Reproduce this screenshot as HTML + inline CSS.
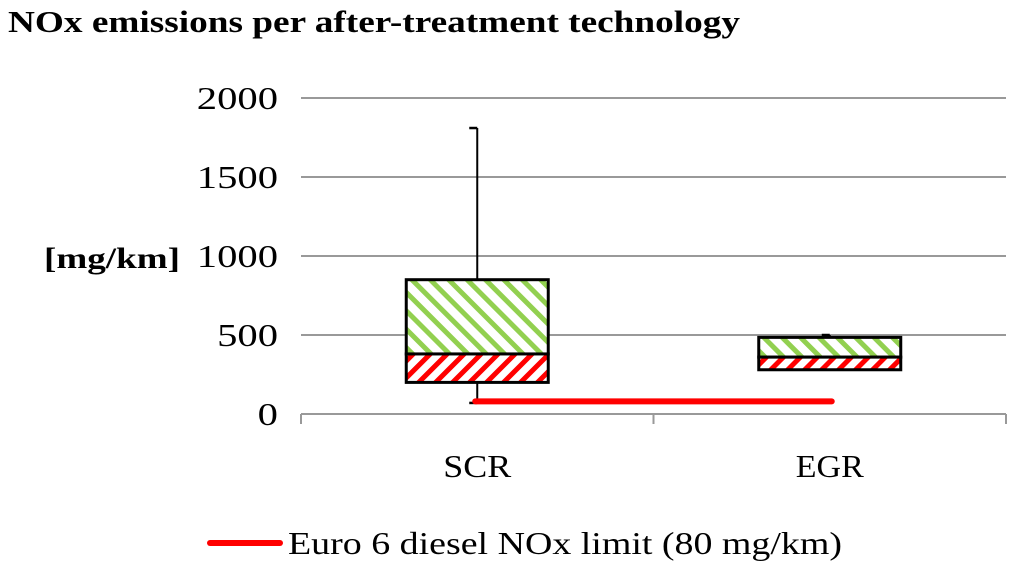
<!DOCTYPE html>
<html><head><meta charset="utf-8"><style>
body{margin:0;background:#fff;width:1024px;height:571px;overflow:hidden}
svg text{font-family:"Liberation Serif",serif}
</style></head><body>
<svg width="1024" height="571">
<defs>
<pattern id="pg" width="13" height="13" patternUnits="userSpaceOnUse" patternTransform="rotate(-45)">
<rect width="13" height="13" fill="#fff"/><rect width="5" height="13" fill="#92d050"/></pattern>
<pattern id="pr" width="12" height="12" patternUnits="userSpaceOnUse" patternTransform="rotate(45)">
<rect width="12" height="12" fill="#fff"/><rect width="5" height="12" fill="#f00"/></pattern>
</defs>
<text x="8" y="32" font-size="31" font-weight="bold" textLength="732" lengthAdjust="spacingAndGlyphs">NOx emissions per after-treatment technology</text>
<text x="44" y="268" font-size="30" font-weight="bold" textLength="136" lengthAdjust="spacingAndGlyphs">[mg/km]</text>
<g id="grid"></g><g id="marks"></g>
<line x1="210" y1="543" x2="280" y2="543" stroke="#f00" stroke-width="6" stroke-linecap="round"/>
<text x="288" y="554" font-size="32" textLength="554" lengthAdjust="spacingAndGlyphs">Euro 6 diesel NOx  limit (80 mg/km)</text>
</svg>
<script>
const categories=["SCR","EGR"];
const maxV=[1810,500];
const q3V=[850,485];
const medV=[380,360];
const q1V=[200,280];
const minV=[70,280];
const limitV=80;
const yTicks=[0,500,1000,1500,2000];
const NS="http://www.w3.org/2000/svg";
const x0=301,x1=1006,y0=414,yTop=98;
const y=v=>y0-(v/2000)*(y0-yTop);
const bw=(x1-x0)/categories.length;
const cx=i=>x0+bw*(i+0.5);
function mk(t,a,p){const e=document.createElementNS(NS,t);for(const k in a)e.setAttribute(k,a[k]);p.appendChild(e);return e;}
const g=document.getElementById('grid'),m=document.getElementById('marks');
yTicks.forEach(v=>{
 const l=mk('line',{x1:x0,x2:x1,y1:y(v),y2:y(v),stroke:'#999','stroke-width':2},g);
 
 
 const s=String(v);
 const t=mk('text',{x:278,y:y(v)+11,'font-size':32,'text-anchor':'end',textLength:s.length*20.3,lengthAdjust:'spacingAndGlyphs'},g);t.textContent=s;
 
 
});
for(let i=0;i<=categories.length;i++){const l=mk('line',{x1:x0+bw*i,x2:x0+bw*i,y1:y0,y2:y0+10,stroke:'#999','stroke-width':2},g);
 
 }
categories.forEach((c,i)=>{
 const X=cx(i),h=71;
 const t=mk('text',{x:X,y:477,'font-size':32,'text-anchor':'middle',textLength:68,lengthAdjust:'spacingAndGlyphs'},g);t.textContent=c;
 
 
 const w=mk('line',{x1:X,x2:X,y1:y(maxV[i]),y2:y(minV[i]),stroke:'#000','stroke-width':2},m);
 
 
 mk('line',{x1:X-8,x2:X,y1:y(maxV[i]),y2:y(maxV[i]),stroke:'#000','stroke-width':2.5},m);
 mk('line',{x1:X-8,x2:X,y1:y(minV[i]),y2:y(minV[i]),stroke:'#000','stroke-width':2.5},m);
 const up=mk('rect',{x:X-h,y:y(q3V[i]),width:2*h,height:y(medV[i])-y(q3V[i]),fill:'url(#pg)',stroke:'#000','stroke-width':3},m);
 
 
 const lo=mk('rect',{x:X-h,y:y(medV[i]),width:2*h,height:y(q1V[i])-y(medV[i]),fill:'url(#pr)',stroke:'#000','stroke-width':3},m);
 
 
});
const lim=mk('line',{x1:cx(0)-2,x2:cx(1)+2,y1:y(limitV),y2:y(limitV),stroke:'#f00','stroke-width':6,'stroke-linecap':'round'},m);


</script>
</body></html>
